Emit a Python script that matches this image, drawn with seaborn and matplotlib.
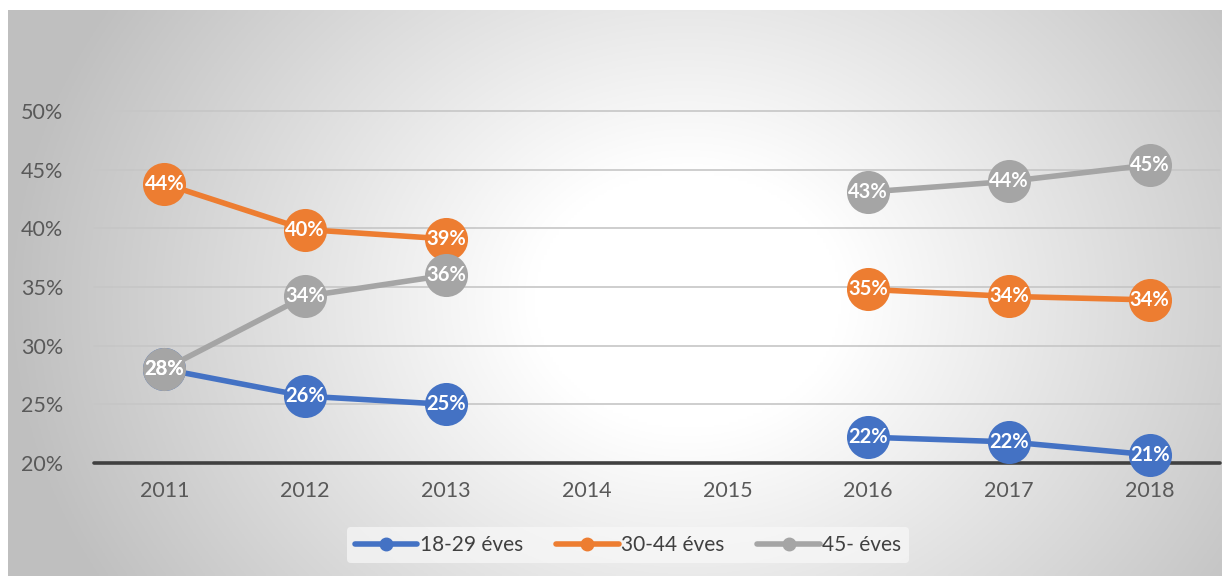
import numpy as np
import pandas as pd
import seaborn as sns
import matplotlib.pyplot as plt
from matplotlib.lines import Line2D

# data (NaN = no survey that year)
years = ['2011', '2012', '2013', '2014', '2015', '2016', '2017', '2018']
age_18_29 = [28.0, 25.7, 25.0, np.nan, np.nan, 22.2, 21.8, 20.7]
age_30_44 = [43.8, 39.9, 39.1, np.nan, np.nan, 34.8, 34.2, 33.9]
age_45 = [28.0, 34.2, 36.0, np.nan, np.nan, 43.1, 44.0, 45.4]
series_names = ['18-29 éves', '30-44 éves', '45- éves']
colors = ['#4472C4', '#ED7D31', '#A5A5A5']

# long form, with a segment id so the gap years break the lines
rows = []
for name, vals in zip(series_names, [age_18_29, age_30_44, age_45]):
    seg = 0
    for i, v in enumerate(vals):
        if np.isnan(v):
            seg += 1
            continue
        rows.append({'pos': i, 'val': v, 'group': name, 'seg': seg})
df = pd.DataFrame(rows)

sns.set_style('white')
plt.rcParams['font.family'] = ['Lato', 'DejaVu Sans']

fig = plt.figure(figsize=(12.3, 5.76), dpi=100)

# radial grey gradient background panel
bg = fig.add_axes([8 / 1230, 0, 1214 / 1230, 566 / 576])
gx, gy = np.meshgrid(np.linspace(0, 1214, 400), np.linspace(0, 566, 200))
r = np.sqrt(((gx - 680) / 620) ** 2 + ((gy - 290) / 520) ** 2)
shade = np.clip(1 - 0.25 * np.clip(r - 0.25, 0, None) / 0.85, 0.75, 1)
bg.imshow(np.dstack([shade] * 3), aspect='auto', extent=[0, 1, 0, 1])
bg.axis('off')

ax = fig.add_axes([94 / 1230, 1 - 463 / 576, (1220 - 94) / 1230, (463 - 111) / 576])
ax.patch.set_alpha(0)

for y in [25, 30, 35, 40, 45, 50]:
    ax.axhline(y, color='#c6c6c6', lw=1.2, zorder=0)
ax.axhline(20, color='#404040', lw=2.6, zorder=1, clip_on=False)

sns.lineplot(data=df, x='pos', y='val', hue='group', units='seg', estimator=None,
             palette=colors, hue_order=series_names, lw=4, marker='o',
             markersize=31, markeredgewidth=0, legend=False, ax=ax, zorder=2)
for ln in ax.get_lines():
    ln.set_clip_on(False)

for name, vals in zip(series_names, [age_18_29, age_30_44, age_45]):
    for i, v in enumerate(vals):
        if np.isnan(v):
            continue
        ax.text(i, v, f'{round(v):.0f}%', ha='center', va='center', color='white',
                fontsize=14.5, fontweight='bold', zorder=5)

ax.set_xlim(-0.5, 7.5)
ax.set_ylim(20, 50)
ax.set_xticks(range(len(years)))
ax.set_xticklabels(years)
ax.set_yticks([20, 25, 30, 35, 40, 45, 50])
ax.set_yticklabels([f'{t}%' for t in range(20, 55, 5)])
ax.tick_params(axis='both', length=0, labelsize=15.5, labelcolor='#595959')
ax.tick_params(axis='x', pad=13)
ax.tick_params(axis='y', pad=22)
ax.set_xlabel('')
ax.set_ylabel('')
for s in ax.spines.values():
    s.set_visible(False)

handles = [Line2D([0], [0], color=c, lw=4, marker='o', markersize=9) for c in colors]
leg = fig.legend(handles, series_names, loc='center', bbox_to_anchor=(628 / 1230, 1 - 545 / 576),
                 ncol=3, frameon=True, fontsize=15, handlelength=3.0, handletextpad=0.1,
                 columnspacing=1.6, labelcolor='#404040')
leg.get_frame().set_facecolor('#f8f8f8')
leg.get_frame().set_edgecolor('none')
leg.get_frame().set_alpha(0.7)

fig.savefig('out.png', dpi=100)
